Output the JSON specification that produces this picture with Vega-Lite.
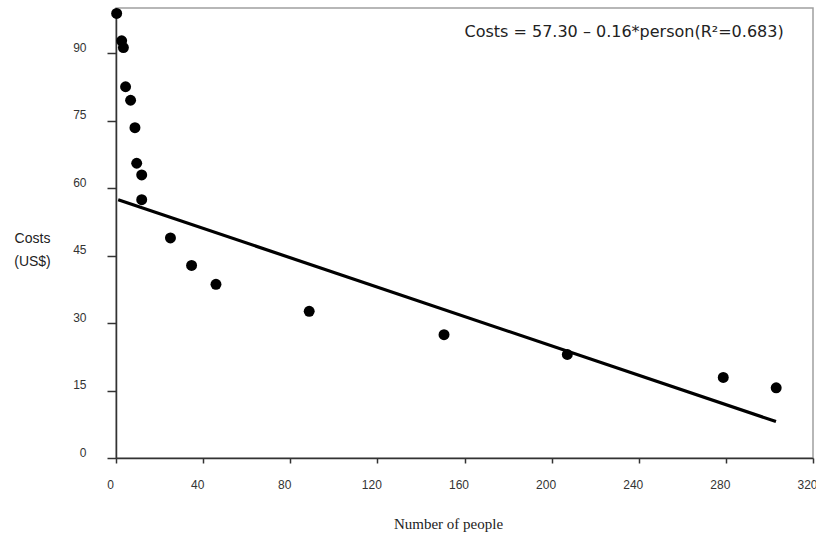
{
  "$schema": "https://vega.github.io/schema/vega-lite/v6.json",
  "width": 697,
  "height": 450,
  "autosize": "none",
  "padding": {"left": 116, "top": 8, "right": 3, "bottom": 78},
  "background": "white",
  "config": {
    "view": {"stroke": "#a0a0a0", "strokeWidth": 1.5},
    "axis": {"grid": false}
  },
  "datasets": {
    "points": [
      {"people": 0.3, "cost": 98.8},
      {"people": 2.6, "cost": 92.7},
      {"people": 3.4, "cost": 91.2},
      {"people": 4.4, "cost": 82.5},
      {"people": 6.7, "cost": 79.5},
      {"people": 8.7, "cost": 73.4},
      {"people": 9.5, "cost": 65.5},
      {"people": 11.8, "cost": 62.9},
      {"people": 11.8, "cost": 57.4},
      {"people": 25.0, "cost": 48.9},
      {"people": 34.7, "cost": 42.8},
      {"people": 45.9, "cost": 38.6},
      {"people": 88.7, "cost": 32.6},
      {"people": 150.6, "cost": 27.4},
      {"people": 207.2, "cost": 23.0},
      {"people": 278.8, "cost": 17.9},
      {"people": 303.1, "cost": 15.6}
    ],
    "fit": [
      {"people": 1, "cost": 57.4},
      {"people": 303, "cost": 8.1}
    ]
  },
  "layer": [
    {
      "data": {"name": "fit"},
      "mark": {"type": "line", "color": "black", "strokeWidth": 3.2},
      "encoding": {
        "x": {
          "field": "people", "type": "quantitative",
          "scale": {"domain": [0, 320], "nice": false},
          "axis": {
            "values": [0, 40, 80, 120, 160, 200, 240, 280, 320],
            "title": "Number of people",
            "titleFont": "Liberation Serif", "titleFontSize": 15, "titleFontWeight": "normal",
            "titleColor": "#222",
            "titleX": 332, "titleY": 70, "titleBaseline": "alphabetic", "titleAnchor": null, "titleAlign": "center",
            "labelFont": "Liberation Sans", "labelFontSize": 12, "labelColor": "#333",
            "labelPadding": 16, "labelOffset": -6, "labelFlush": false,
            "domainColor": "#333", "domainWidth": 1.5,
            "tickColor": "#333", "tickWidth": 1.5, "tickSize": 5
          }
        },
        "y": {
          "field": "cost", "type": "quantitative",
          "scale": {"domain": [0, 100], "nice": false},
          "axis": {
            "values": [0, 15, 30, 45, 60, 75, 90],
            "title": ["Costs", "(US$)"],
            "titleFont": "Liberation Sans", "titleFontSize": 14, "titleFontWeight": "normal",
            "titleColor": "#222", "titleAngle": 0,
            "titleX": -84, "titleY": 234, "titleAlign": "center", "titleBaseline": "alphabetic",
            "titleLineHeight": 23, "titleAnchor": null,
            "labelFont": "Liberation Sans", "labelFontSize": 12, "labelColor": "#333",
            "labelPadding": 21, "labelOffset": -6, "labelFlush": false,
            "domainColor": "#333", "domainWidth": 1.5,
            "tickColor": "#333", "tickWidth": 1.5, "tickSize": 9
          }
        }
      }
    },
    {
      "data": {"name": "points"},
      "mark": {"type": "point", "filled": true, "color": "black", "opacity": 1, "size": 120},
      "encoding": {
        "x": {"field": "people", "type": "quantitative"},
        "y": {"field": "cost", "type": "quantitative"}
      }
    },
    {
      "data": {"values": [{"label": "Costs = 57.30 – 0.16*person(R²=0.683)"}]},
      "mark": {"type": "text", "align": "left", "baseline": "middle", "font": "DejaVu Sans", "fontSize": 16, "color": "#222"},
      "encoding": {
        "x": {"datum": 160, "type": "quantitative"},
        "y": {"datum": 94.6, "type": "quantitative"},
        "text": {"field": "label", "type": "nominal"}
      }
    }
  ]
}
